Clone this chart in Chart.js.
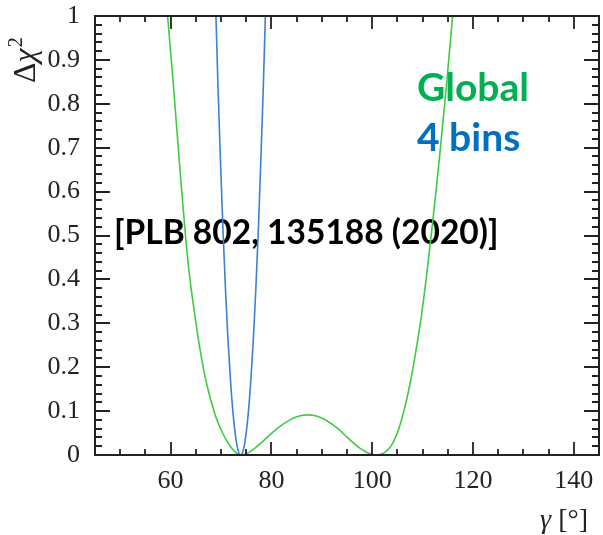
<!DOCTYPE html>
<html>
<head>
<meta charset="utf-8">
<script src="https://cdn.jsdelivr.net/npm/chart.js@4.4.1/dist/chart.umd.min.js"></script>
<style>
  html, body { margin: 0; padding: 0; background: #fff; }
  #wrap { width: 603px; height: 535px; }
</style>
</head>
<body>
<div id="wrap"><canvas id="c" width="603" height="535"></canvas></div>
<script>
// ---- data ----
const globalGamma = [58.6, 59.4, 60.5, 61.9, 63.1, 63.9, 64.9, 65.8, 67.2, 68.8, 70.0, 71.0, 72.0, 72.8, 73.3, 73.9, 74.4, 75.1, 76.0, 77.1, 78.4, 79.7, 81.0, 82.4, 83.7, 85.0, 86.2, 87.3, 88.5, 89.6, 91.0, 92.3, 93.6, 94.9, 96.2, 97.6, 98.7, 99.6, 100.3, 100.9, 101.6, 102.5, 103.5, 104.2, 105.2, 106.5, 107.8, 109.0, 109.8, 110.8, 111.8, 112.6, 113.5, 114.8, 115.8, 116.4];
const globalDchi2 = [1.11, 1.00, 0.85, 0.645, 0.48, 0.395, 0.312, 0.243, 0.16, 0.093, 0.058, 0.035, 0.017, 0.007, 0.0025, 0.0, 0.0008, 0.0035, 0.0095, 0.019, 0.032, 0.046, 0.059, 0.071, 0.080, 0.087, 0.0905, 0.0915, 0.0899, 0.086, 0.078, 0.068, 0.056, 0.042, 0.028, 0.015, 0.0075, 0.0028, 0.0006, 0.0, 0.0015, 0.006, 0.017, 0.030, 0.057, 0.11, 0.18, 0.26, 0.32, 0.41, 0.51, 0.595, 0.695, 0.85, 0.98, 1.06];

const binsGamma = [68.9, 69.4, 69.9, 70.4, 70.9, 71.4, 71.9, 72.4, 72.9, 73.4, 73.9, 74.4, 74.9, 75.4, 75.9, 76.4, 76.9, 77.4, 77.9, 78.4, 78.9];
const binsDchi2 = [1.04, 0.84, 0.67, 0.51, 0.375, 0.26, 0.167, 0.094, 0.042, 0.010, 0.0, 0.010, 0.042, 0.094, 0.167, 0.26, 0.375, 0.51, 0.67, 0.84, 1.04];

const xMajorTicks = [60, 80, 100, 120, 140];
const xTickLabels = ['60', '80', '100', '120', '140'];
const xMinorTicks = [50, 55, 65, 70, 75, 85, 90, 95, 105, 110, 115, 125, 130, 135];
const yMajorTicks = [0, 0.1, 0.2, 0.3, 0.4, 0.5, 0.6, 0.7, 0.8, 0.9, 1];
const yTickLabels = ['0', '0.1', '0.2', '0.3', '0.4', '0.5', '0.6', '0.7', '0.8', '0.9', '1'];
const yMinorTicks = [0.02, 0.04, 0.06, 0.08, 0.12, 0.14, 0.16, 0.18, 0.22, 0.24, 0.26, 0.28,
  0.32, 0.34, 0.36, 0.38, 0.42, 0.44, 0.46, 0.48, 0.52, 0.54, 0.56, 0.58, 0.62, 0.64, 0.66, 0.68,
  0.72, 0.74, 0.76, 0.78, 0.82, 0.84, 0.86, 0.88, 0.92, 0.94, 0.96, 0.98];

const seriesNames = ['Global', '4 bins'];
const refText = '[PLB 802, 135188 (2020)]';

const toPts = (xs, ys) => xs.map((v, i) => ({ x: v, y: ys[i] }));
const SERIF = '"Liberation Serif", "Times New Roman", serif';

const noPad = s => { s.paddingTop = 0; s.paddingBottom = 0; s.paddingLeft = 0; s.paddingRight = 0; };

const decor = {
  id: 'decor',
  beforeDatasetsDraw(chart) {
    const { ctx } = chart;
    ctx.save();
    ctx.textAlign = 'left';
    ctx.textBaseline = 'alphabetic';
    ctx.font = 'bold 39px Lato';
    ctx.fillStyle = '#00B050';
    ctx.fillText(seriesNames[0], 417, 101);
    ctx.fillStyle = '#0070C0';
    ctx.fillText(seriesNames[1], 417, 151);
    ctx.font = 'bold 33.5px Lato';
    ctx.fillStyle = '#000';
    ctx.fillText(refText, 114, 244);
    ctx.restore();
  },
  afterDatasetsDraw(chart) {
    const { ctx, chartArea: a, scales: { x, y } } = chart;
    ctx.save();
    ctx.strokeStyle = '#222';
    ctx.lineWidth = 2;
    ctx.strokeRect(a.left, a.top, a.right - a.left, a.bottom - a.top);
    ctx.lineWidth = 1.8;
    ctx.beginPath();
    const xt = (v, len) => {
      const p = Math.round(x.getPixelForValue(v));
      ctx.moveTo(p, a.bottom); ctx.lineTo(p, a.bottom - len);
      ctx.moveTo(p, a.top); ctx.lineTo(p, a.top + len);
    };
    const yt = (v, len) => {
      const p = Math.round(y.getPixelForValue(v));
      ctx.moveTo(a.left, p); ctx.lineTo(a.left + len, p);
      ctx.moveTo(a.right, p); ctx.lineTo(a.right - len, p);
    };
    xMajorTicks.forEach(v => xt(v, 13));
    xMinorTicks.forEach(v => xt(v, 6));
    yMajorTicks.forEach(v => yt(v, 15));
    yMinorTicks.forEach(v => yt(v, 7));
    ctx.stroke();

    // axis titles
    ctx.fillStyle = '#222';
    ctx.save();
    ctx.translate(35, 83);
    ctx.rotate(-Math.PI / 2);
    ctx.textBaseline = 'alphabetic';
    ctx.textAlign = 'left';
    ctx.font = '32px ' + SERIF;
    ctx.fillText('Δ', 0, 0);
    let w = ctx.measureText('Δ').width;
    ctx.font = 'italic 32px ' + SERIF;
    ctx.fillText('χ', w, 0);
    w += ctx.measureText('χ').width + 1;
    ctx.font = '20px ' + SERIF;
    ctx.fillText('2', w, -13);
    ctx.restore();
    ctx.textAlign = 'right';
    ctx.textBaseline = 'alphabetic';
    ctx.font = '28px ' + SERIF;
    const br = '[°]';
    ctx.fillText(br, 588, 528);
    const bw = ctx.measureText(br).width;
    ctx.font = 'italic 28px ' + SERIF;
    ctx.fillText('γ ', 588 - bw, 528);
    ctx.restore();
  }
};

new Chart(document.getElementById('c'), {
  type: 'line',
  data: {
    datasets: [
      { label: seriesNames[0], data: toPts(globalGamma, globalDchi2), borderColor: '#3FCC3F', borderWidth: 1.6, pointRadius: 0, cubicInterpolationMode: 'monotone', fill: false },
      { label: seriesNames[1], data: toPts(binsGamma, binsDchi2), borderColor: '#3B80D4', borderWidth: 1.6, pointRadius: 0, cubicInterpolationMode: 'monotone', fill: false }
    ]
  },
  options: {
    responsive: false,
    animation: false,
    devicePixelRatio: 1,
    layout: { padding: { top: 16, right: 4, left: 0, bottom: 0 } },
    plugins: { legend: { display: false }, tooltip: { enabled: false } },
    scales: {
      x: {
        type: 'linear', min: 45, max: 145,
        grid: { display: false, drawTicks: false },
        border: { display: false },
        afterBuildTicks: s => { s.ticks = xMajorTicks.map(v => ({ value: v })); },
        afterFit: s => { s.height = 80; noPad(s); },
        ticks: {
          padding: 11, color: '#222', maxRotation: 0, autoSkip: false,
          font: { family: SERIF, size: 26 },
          callback: (v) => xTickLabels[xMajorTicks.indexOf(v)]
        }
      },
      y: {
        type: 'linear', min: 0, max: 1,
        grid: { display: false, drawTicks: false },
        border: { display: false },
        afterBuildTicks: s => { s.ticks = yMajorTicks.map(v => ({ value: v })); },
        afterFit: s => { s.width = 95; noPad(s); },
        ticks: {
          padding: 15, color: '#222', autoSkip: false,
          font: { family: SERIF, size: 26 },
          callback: (v) => { const i = yMajorTicks.findIndex(t => Math.abs(t - v) < 1e-9); return yTickLabels[i]; }
        }
      }
    }
  },
  plugins: [decor]
});
</script>
</body>
</html>
